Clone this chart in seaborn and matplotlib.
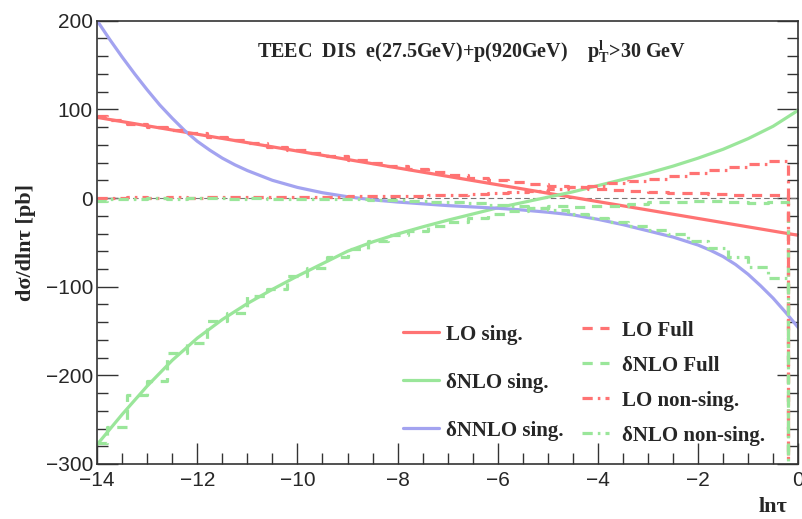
import numpy as np
import pandas as pd
import seaborn as sns
import matplotlib
matplotlib.use('Agg')
import matplotlib.pyplot as plt
from matplotlib.ticker import MultipleLocator

# smooth singular curves
lo_x = [-14.0, -13.0, -12.0, -11.0, -10.0, -9.0, -8.0, -7.0, -6.0, -5.0,
        -4.0, -3.0, -2.0, -1.0, 0.0]
lo_sing = [91, 81.5, 72, 62.5, 53, 43.5, 34, 24.5, 15, 5.5,
           -4, -13.5, -23, -32.5, -42]

nlo_x = [-14.0, -13.5, -13.0, -12.5, -12.0, -11.5, -11.0, -10.5, -10.0, -9.5,
         -9.0, -8.5, -8.0, -7.5, -7.0, -6.5, -6.0, -5.5, -5.0, -4.5,
         -4.0, -3.5, -3.0, -2.5, -2.0, -1.5, -1.0, -0.5, 0.0]
nlo_sing = [-278, -244, -212, -183, -158, -137, -119, -103, -88, -74,
            -60, -49.5, -40.5, -32.5, -25, -18, -11, -5, 1, 7,
            14, 21, 28, 36, 45, 55, 67, 81, 99]

nnlo_x = [-14.0, -13.75, -13.5, -13.25, -13.0, -12.75, -12.5, -12.25, -12.0, -11.75,
          -11.5, -11.25, -11.0, -10.5, -10.0, -9.5, -9.0, -8.5, -8.0, -7.5,
          -7.0, -6.5, -6.0, -5.5, -5.0, -4.5, -4.0, -3.5, -3.0, -2.5,
          -2.0, -1.75, -1.5, -1.25, -1.0, -0.75, -0.5, -0.25, 0.0]
nnlo_sing = [200, 179, 159, 140, 122, 105, 90, 76, 64, 54,
             45, 37.5, 31, 20, 12, 6, 1.5, -2, -4.5, -6.5,
             -8.5, -10, -11.5, -13.5, -16, -19, -24, -30, -37, -44,
             -53, -59, -66, -75, -86, -99, -113, -129, -146]

# histograms (bin width 0.4), bin centres; last bin drops far off scale
bins = [-14.0, -13.6, -13.2, -12.8, -12.4, -12.0, -11.6, -11.2, -10.8, -10.4,
        -10.0, -9.6, -9.2, -8.8, -8.4, -8.0, -7.6, -7.2, -6.8, -6.4,
        -6.0, -5.6, -5.2, -4.8, -4.4, -4.0, -3.6, -3.2, -2.8, -2.4,
        -2.0, -1.6, -1.2, -0.8, -0.4, 0.0]
lo_full = [92, 88, 84, 80, 77, 73, 69, 65, 62, 58,
           54, 51, 47, 43, 40, 36, 33, 29, 26, 23,
           20.5, 18, 16, 14, 12, 10, 9, 8, 7, 6,
           5.5, 5, 4, 3.5, 4, -1000]
nlo_full = [-276, -258, -222, -206, -175, -163, -139, -130, -111, -103,
            -88, -79, -66, -58, -48, -42, -37, -31, -27, -22,
            -18, -15, -11, -9, -10, -9, -9, -7, -5, -4,
            -3, -3, -4, -6, -5, -1000]
lo_nons = [0.5, 0.5, 1, 0.5, 1, 0.5, 1, 1, 1, 1,
           1.5, 1.5, 1.5, 2, 2, 2, 2.5, 3, 3.5, 4.5,
           5.5, 7, 8.5, 10, 12, 14, 16.5, 19.5, 22, 25,
           28.5, 31.5, 34.5, 38, 42, -1000]
nlo_nons = [-3, -1, -1, -0.5, -1, -0.5, -0.5, -1, -0.5, -1,
            -1, -1, -1.5, -1.5, -2, -2.5, -3, -4, -5, -6,
            -7.5, -9, -11, -14, -18, -23, -27, -31, -36, -41,
            -48, -56, -66, -78, -90, -1000]

red = '#ff7373'
green = '#9ae69a'
blue = '#a3a3f0'

sns.set_style('ticks')
plt.rcParams['font.family'] = ['Liberation Sans', 'DejaVu Sans']
plt.rcParams['mathtext.fontset'] = 'custom'
plt.rcParams['mathtext.rm'] = 'Liberation Serif:bold'
plt.rcParams['mathtext.it'] = 'Liberation Serif:bold'
plt.rcParams['mathtext.bf'] = 'Liberation Serif:bold'

fig = plt.figure(figsize=(8.03, 5.19), dpi=100)
ax = fig.add_axes([0.121, 0.106, 0.873, 0.854])

ax.axhline(0, color='#777777', lw=0.8, ls=(0, (5, 3)), zorder=1)

lw = 2.3
dash = (0, (3.2, 2.4))
dashdot = (0, (3.2, 1.6, 0.8, 1.6))
sns.lineplot(x=lo_x, y=lo_sing, ax=ax, color=red, lw=lw, label='LO sing.')
sns.lineplot(x=nlo_x, y=nlo_sing, ax=ax, color=green, lw=lw, label='δNLO sing.')
sns.lineplot(x=nnlo_x, y=nnlo_sing, ax=ax, color=blue, lw=lw, label='δNNLO sing.')
sns.lineplot(x=bins, y=lo_full, ax=ax, color=red, lw=lw, linestyle=dash,
             drawstyle='steps-mid', label='LO Full')
sns.lineplot(x=bins, y=nlo_full, ax=ax, color=green, lw=lw, linestyle=dash,
             drawstyle='steps-mid', label='δNLO Full')
sns.lineplot(x=bins, y=lo_nons, ax=ax, color=red, lw=lw, linestyle=dashdot,
             drawstyle='steps-mid', label='LO non-sing.')
sns.lineplot(x=bins, y=nlo_nons, ax=ax, color=green, lw=lw, linestyle=dashdot,
             drawstyle='steps-mid', label='δNLO non-sing.')

ax.set_xlim(-14, 0)
ax.set_ylim(-300, 200)
ax.xaxis.set_major_locator(MultipleLocator(2))
ax.xaxis.set_minor_locator(MultipleLocator(0.5))
ax.yaxis.set_major_locator(MultipleLocator(100))
ax.yaxis.set_minor_locator(MultipleLocator(20))
ax.tick_params(which='both', direction='in', left=True, right=True,
               bottom=True, top=False, width=1, color='#333333')
ax.tick_params(which='major', length=15, labelsize=15)
ax.tick_params(axis='x', which='major', pad=5)
ax.tick_params(axis='y', which='major', pad=3)
ax.tick_params(which='minor', length=8)
for s in ax.spines.values():
    s.set_linewidth(1.2)
    s.set_color('#333333')

lab = dict(family='Liberation Serif', weight='bold', size=16)
ax.set_xlabel('lnτ', loc='right', fontdict=lab, labelpad=6)
ax.xaxis.set_label_coords(0.985, -0.075)
ax.set_ylabel('dσ/dlnτ [pb]', fontdict=lab, labelpad=7)

ax.text(0.228, 0.93, r'TEEC  DIS  e(27.5GeV)+p(920GeV)    p$_{\mathrm{T}}^{\mathrm{l}}$>30 GeV',
        transform=ax.transAxes, family='Liberation Serif', weight='bold',
        size=14.5, va='center')

handles, labels = ax.get_legend_handles_labels()
ax.get_legend().remove()
lfont = dict(family='Liberation Serif', weight='bold', size=15)
leg1 = ax.legend(handles[:3], labels[:3], loc='upper left',
                 bbox_to_anchor=(0.41, 0.357), frameon=False, prop=lfont,
                 labelspacing=1.35, handlelength=1.7, handletextpad=0.35)
ax.add_artist(leg1)
ax.legend(handles[3:], labels[3:], loc='upper left',
          bbox_to_anchor=(0.665, 0.366), frameon=False, prop=lfont,
          labelspacing=0.72, handlelength=1.3, handletextpad=0.6)

fig.savefig('out.png', dpi=100)
